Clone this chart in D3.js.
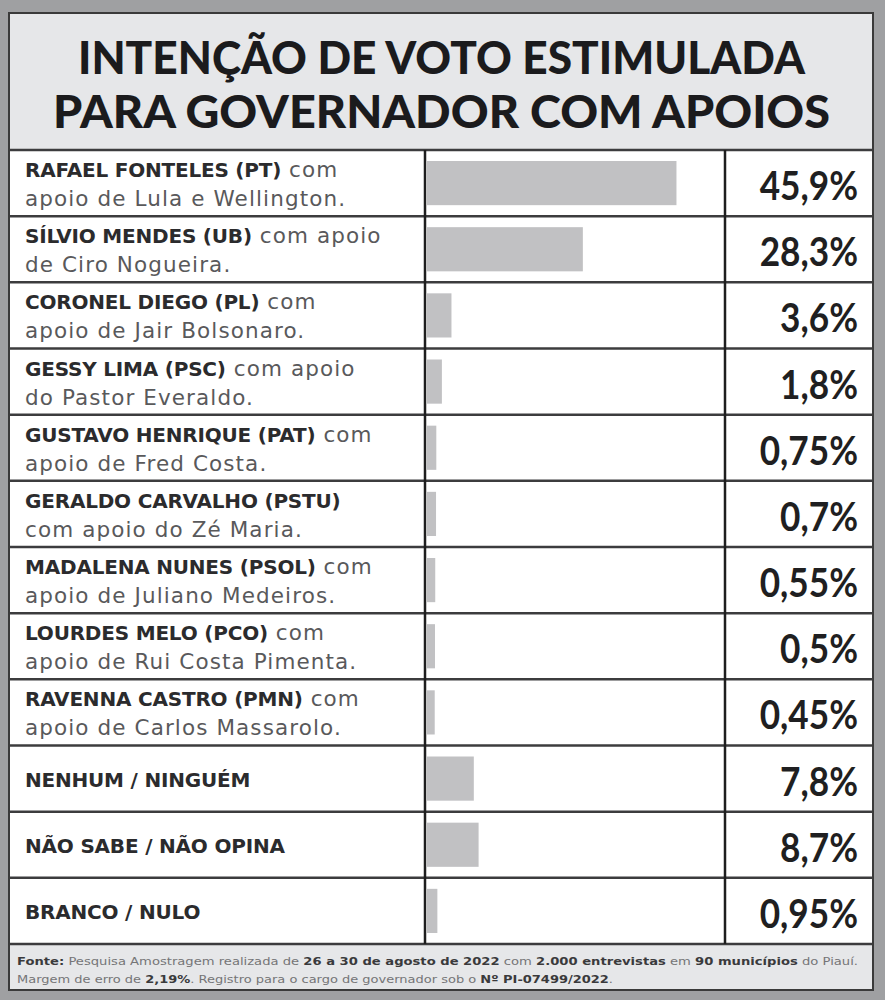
<!DOCTYPE html>
<html>
<head>
<meta charset="utf-8">
<script src="https://cdn.jsdelivr.net/npm/d3@7"></script>
<style>
  body { margin: 0; background: #9fa0a2; }
  svg { display: block; }
</style>
</head>
<body>
<svg id="chart"></svg>
<script>
"use strict";

// Data
const names = [
  "RAFAEL FONTELES (PT)", "SÍLVIO MENDES (UB)", "CORONEL DIEGO (PL)",
  "GESSY LIMA (PSC)", "GUSTAVO HENRIQUE (PAT)", "GERALDO CARVALHO (PSTU)",
  "MADALENA NUNES (PSOL)", "LOURDES MELO (PCO)", "RAVENNA CASTRO (PMN)",
  "NENHUM / NINGUÉM", "NÃO SABE / NÃO OPINA", "BRANCO / NULO"
];
const nameTail = [
  " com", " com apoio", " com", " com apoio", " com", "",
  " com", " com", " com", "", "", ""
];
const secondLine = [
  "apoio de Lula e Wellington.", "de Ciro Nogueira.", "apoio de Jair Bolsonaro.",
  "do Pastor Everaldo.", "apoio de Fred Costa.", "com apoio do Zé Maria.",
  "apoio de Juliano Medeiros.", "apoio de Rui Costa Pimenta.", "apoio de Carlos Massarolo.",
  "", "", ""
];
const values = [45.9, 28.3, 3.6, 1.8, 0.75, 0.7, 0.55, 0.5, 0.45, 7.8, 8.7, 0.95];

const titleLines = ["INTENÇÃO DE VOTO ESTIMULADA", "PARA GOVERNADOR COM APOIOS"];
const footnote = [
  [["Fonte:", true], [" Pesquisa Amostragem realizada de ", false], ["26 a 30 de agosto de 2022", true],
   [" com ", false], ["2.000 entrevistas", true], [" em ", false], ["90 municípios", true], [" do Piauí.", false]],
  [["Margem de erro de ", false], ["2,19%", true], [". Registro para o cargo de governador sob o ", false],
   ["Nº PI-07499/2022", true], [".", false]]
];

const W = 885, H = 1000;
const box = { x0: 9, x1: 873, y0: 13, y1: 990 };
const tableTop = 150, tableBottom = 944;
const col1 = 425, col2 = 725;
const labelFont = "DejaVu Sans";

const svg = d3.select("#chart").attr("width", W).attr("height", H);

// outer grey background + inner panel
svg.append("rect").attr("width", W).attr("height", H).attr("fill", "#9fa0a2");
svg.append("rect")
  .attr("x", box.x0).attr("y", box.y0)
  .attr("width", box.x1 - box.x0).attr("height", box.y1 - box.y0)
  .attr("fill", "#e6e7e9").attr("stroke", "#3a3a3a").attr("stroke-width", 2);

// title
svg.selectAll("text.title")
  .data(titleLines)
  .enter().append("text")
  .attr("class", "title")
  .attr("x", (W - 2) / 2)
  .attr("y", (d, i) => 74 + i * 54)
  .attr("text-anchor", "middle")
  .attr("font-family", "Lato")
  .attr("font-weight", 900)
  .attr("font-size", 46)
  .attr("fill", "#1b1b1d")
  .attr("textLength", (d, i) => i === 0 ? 727 : 777)
  .attr("lengthAdjust", "spacingAndGlyphs")
  .text(d => d);

const y = d3.scaleBand()
  .domain(d3.range(names.length))
  .range([tableTop, tableBottom]);

// bars start with a small stub so tiny values stay visible
const x = d3.scaleLinear().domain([-1, 46]).range([col1 + 2, 677]);

const rows = svg.selectAll("g.row")
  .data(values)
  .enter().append("g")
  .attr("class", "row")
  .attr("transform", (d, i) => "translate(0," + y(i) + ")");

rows.append("rect")
  .attr("x", box.x0 + 1)
  .attr("width", box.x1 - box.x0 - 2)
  .attr("height", y.bandwidth())
  .attr("fill", "#ffffff");

rows.append("rect")
  .attr("x", x(-1))
  .attr("y", 11)
  .attr("width", d => x(d) - x(-1))
  .attr("height", y.bandwidth() - 22)
  .attr("fill", "#c1c1c3");

// labels
const label = rows.append("text")
  .attr("x", 25)
  .attr("font-family", labelFont)
  .attr("font-size", 20);

label.each(function(d, i) {
  const t = d3.select(this);
  const twoLines = secondLine[i] !== "";
  const l1 = t.append("tspan").attr("x", 25).attr("y", twoLines ? 27 : 41);
  l1.append("tspan")
    .attr("font-weight", 700)
    .attr("letter-spacing", -0.2)
    .attr("fill", "#2b2b2d")
    .text(names[i]);
  if (nameTail[i]) {
    l1.append("tspan").attr("fill", "#59595b").attr("font-size", 21.5)
      .attr("letter-spacing", 1.1).text(nameTail[i]);
  }
  if (twoLines) {
    t.append("tspan").attr("x", 25).attr("y", 56)
      .attr("fill", "#59595b").attr("font-size", 21.5).attr("letter-spacing", 1.1)
      .text(secondLine[i]);
  }
});

// values
rows.append("text")
  .attr("transform", "translate(858,50) scale(0.88,1)")
  .attr("text-anchor", "end")
  .attr("font-family", "Lato")
  .attr("font-weight", 700)
  .attr("font-size", 40)
  .attr("fill", "#1f1f21")
  .text(d => String(d).replace(".", ",") + "%");

// grid lines
svg.selectAll("line.hrow")
  .data(d3.range(names.length + 1))
  .enter().append("line")
  .attr("class", "hrow")
  .attr("x1", box.x0).attr("x2", box.x1)
  .attr("y1", i => i === names.length ? tableBottom : y(i))
  .attr("y2", i => i === names.length ? tableBottom : y(i))
  .attr("stroke", "#3c3c3e").attr("stroke-width", 2.5);

svg.selectAll("line.vcol")
  .data([col1, col2])
  .enter().append("line")
  .attr("class", "vcol")
  .attr("x1", d => d).attr("x2", d => d)
  .attr("y1", tableTop).attr("y2", tableBottom)
  .attr("stroke", "#1e1e1e").attr("stroke-width", 2.5);

// footnote
svg.selectAll("text.foot")
  .data(footnote)
  .enter().append("text")
  .attr("class", "foot")
  .attr("x", 17)
  .attr("y", (d, i) => 965 + i * 18)
  .attr("font-family", labelFont)
  .attr("font-size", 11)
  .attr("textLength", (d, i) => i === 0 ? 841 : 596)
  .attr("lengthAdjust", "spacingAndGlyphs")
  .each(function(parts) {
    d3.select(this).selectAll("tspan")
      .data(parts)
      .enter().append("tspan")
      .attr("font-weight", p => p[1] ? 700 : 400)
      .attr("fill", p => p[1] ? "#3a3a3c" : "#757577")
      .text(p => p[0]);
  });

// frame drawn again on top
svg.append("rect")
  .attr("x", box.x0).attr("y", box.y0)
  .attr("width", box.x1 - box.x0).attr("height", box.y1 - box.y0)
  .attr("fill", "none").attr("stroke", "#3a3a3a").attr("stroke-width", 2);
</script>
</body>
</html>
